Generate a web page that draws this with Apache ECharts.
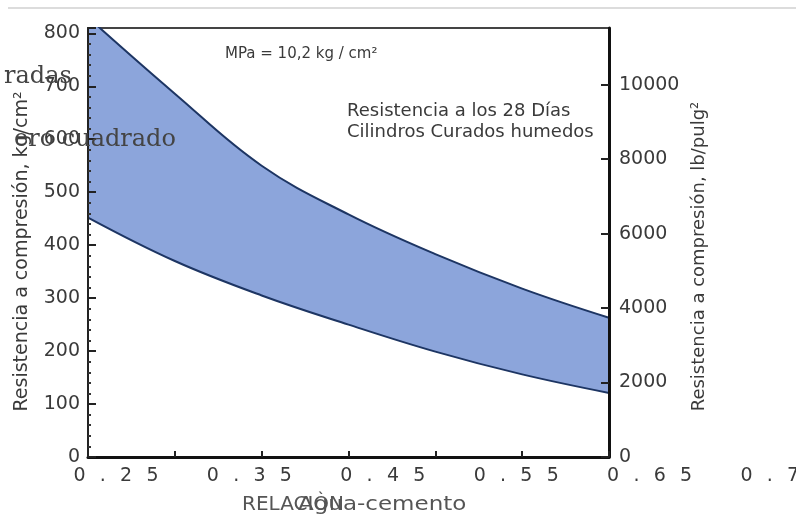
<!DOCTYPE html>
<html>
<head>
<meta charset="utf-8">
<script src="https://cdn.jsdelivr.net/npm/echarts@6/dist/echarts.min.js"></script>
<style>
  html, body { margin: 0; padding: 0; background: #fff; }
  #chart { width: 796px; height: 519px; }
</style>
</head>
<body>
<div id="chart"></div>
<script>
// relación agua-cemento (eje x) y límites de la banda, kg/cm2
var relacion = [0.30, 0.35, 0.40, 0.45, 0.50, 0.55, 0.60];
var resistMax = [830, 686, 550, 458, 383, 318, 263];
var resistMin = [452, 370, 305, 250, 199, 156, 121];

// fila de etiquetas del eje x (tal como aparece en la figura)
var etiquetasRel = ['0.25', '0.35', '0.45', '0.55', '0.65', '0.75'];

var KG_MAX = 810;
var PSI_POR_KG = 14.223;

var myChart = echarts.init(document.getElementById('chart'));

var lineaSup = relacion.map(function (x, i) { return [x, resistMax[i]]; });
var lineaInf = relacion.map(function (x, i) { return [x, resistMin[i]]; });

var txtColor = '#3a3a3a';
var font = 'DejaVu Sans';

var option = {
  animation: false,
  grid: [
    { left: 88, right: 187, top: 28, bottom: 62, outerBoundsMode: 'none',
      show: true, borderColor: '#444', borderWidth: 2 },
    // grid solo para la fila de etiquetas desplazada
    { left: 116, width: 667, top: 457, height: 1, outerBoundsMode: 'none' }
  ],
  xAxis: [
    {
      type: 'value', gridIndex: 0, z: 5,
      min: 0.30, max: 0.60, interval: 0.05,
      axisLine: { show: true, lineStyle: { color: '#111', width: 3 } },
      axisTick: { show: true, inside: true, length: 6, lineStyle: { color: '#222', width: 2 } },
      axisLabel: { show: false },
      splitLine: { show: false }
    },
    {
      type: 'category', gridIndex: 1, boundaryGap: false,
      data: etiquetasRel,
      axisLine: { show: false },
      axisTick: { show: false },
      axisLabel: {
        margin: 9, interval: 0,
        color: txtColor, fontFamily: font, fontSize: 19,
        formatter: function (s) { return s.split('').join('\u2002\u2005'); }
      }
    }
  ],
  yAxis: [
    {
      type: 'value', gridIndex: 0, z: 5,
      min: 0, max: KG_MAX, interval: 100,
      name: 'Resistencia a compresión, kg/cm²',
      nameLocation: 'middle', nameRotate: 90, nameGap: 56,
      nameTextStyle: { color: txtColor, fontFamily: font, fontSize: 19, padding: [0, 18, 0, 0] },
      axisLine: { show: true, lineStyle: { color: '#222', width: 2 } },
      axisTick: { show: true, inside: true, length: 8, lineStyle: { color: '#222', width: 2 } },
      minorTick: { show: true, splitNumber: 5, length: 3, lineStyle: { color: '#333', width: 2 } },
      axisLabel: { color: txtColor, fontFamily: font, fontSize: 19, margin: 8, showMaxLabel: false },
      splitLine: { show: false }
    },
    {
      type: 'value', gridIndex: 0, position: 'right', z: 5,
      min: 0, max: KG_MAX * PSI_POR_KG, interval: 2000,
      name: 'Resistencia a compresión, lb/pulg²',
      nameLocation: 'middle', nameRotate: 90, nameGap: 72,
      nameTextStyle: { color: txtColor, fontFamily: font, fontSize: 18, padding: [0, 28, 0, 0] },
      axisLine: { show: true, lineStyle: { color: '#111', width: 3 } },
      axisTick: { show: true, inside: true, length: 8, lineStyle: { color: '#222', width: 2 } },
      axisLabel: {
        color: txtColor, fontFamily: font, fontSize: 19, margin: 10, showMaxLabel: false,
        formatter: function (v) { return String(v); }
      },
      splitLine: { show: false }
    },
    { type: 'value', gridIndex: 1, show: false }
  ],
  series: [
    {
      // banda: área azul bajo la curva superior
      type: 'line', xAxisIndex: 0, yAxisIndex: 0,
      smooth: 0.4, symbol: 'none', z: 2,
      lineStyle: { color: '#1d3563', width: 2 },
      areaStyle: { color: '#8ca5db', opacity: 1 },
      data: lineaSup
    },
    {
      // bajo la curva inferior se tapa con blanco
      type: 'line', xAxisIndex: 0, yAxisIndex: 0,
      smooth: 0.4, symbol: 'none', z: 3,
      lineStyle: { color: '#1d3563', width: 2 },
      areaStyle: { color: '#ffffff', opacity: 1 },
      data: lineaInf
    }
  ],
  graphic: [
    { type: 'line', shape: { x1: 8, y1: 8, x2: 796, y2: 8 }, style: { stroke: '#dcdcdc', lineWidth: 2 } },
    { type: 'text', x: 225, y: 54, style: { text: 'MPa = 10,2 kg / cm²', font: '15px "DejaVu Sans"', fill: txtColor, verticalAlign: 'middle' } },
    { type: 'text', x: 347, y: 111, style: { text: 'Resistencia a los 28 Días', font: '18px "DejaVu Sans"', fill: txtColor, verticalAlign: 'middle' } },
    { type: 'text', x: 347, y: 132, style: { text: 'Cilindros Curados humedos', font: '18px "DejaVu Sans"', fill: txtColor, verticalAlign: 'middle' } },
    // título del eje x (dos textos superpuestos como en la figura)
    { type: 'text', x: 242, y: 505, style: { text: 'RELACIÒN', font: '20px "DejaVu Sans"', fill: '#555', verticalAlign: 'middle' } },
    { type: 'text', x: 298, y: 505, scaleX: 1.15, style: { text: 'Agua-cemento', font: '20px "DejaVu Sans"', fill: '#555', verticalAlign: 'middle' } },
    { type: 'text', x: 4, y: 77, z: 10, style: { text: 'radas', font: '24px "DejaVu Serif"', fill: '#444', verticalAlign: 'middle' } },
    { type: 'text', x: 14, y: 140, z: 10, style: { text: 'ero cuadrado', font: '24px "DejaVu Serif"', fill: '#444', verticalAlign: 'middle' } }
  ]
};

myChart.setOption(option);

window.addEventListener('resize', function () {
  myChart.resize();
});
</script>
</body>
</html>
